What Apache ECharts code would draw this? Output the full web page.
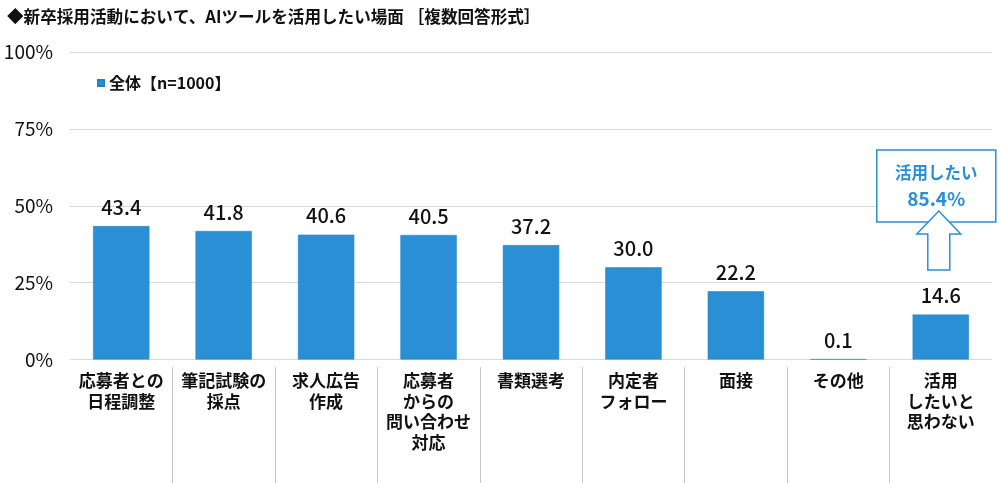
<!DOCTYPE html>
<html>
<head>
<meta charset="utf-8">
<script src="https://cdn.jsdelivr.net/npm/echarts@6/dist/echarts.min.js"></script>
<style>
html,body{margin:0;padding:0;background:#fff;}
#c{width:1000px;height:483px;}
</style>
</head>
<body>
<div id="c"></div>
<script>
const categories = ['応募者との\n日程調整','筆記試験の\n採点','求人広告\n作成','応募者\nからの\n問い合わせ\n対応','書類選考','内定者\nフォロー','面接','その他','活用\nしたいと\n思わない'];
const values = [43.4, 41.8, 40.6, 40.5, 37.2, 30.0, 22.2, 0.1, 14.6];
const seriesName = '全体【n=1000】';
const titleText = '◆新卒採用活動において、AIツールを活用したい場面 ［複数回答形式］';
const calloutLines = ['活用したい', '85.4%'];
const yTicks = [0, 25, 50, 75, 100];

const FONT = '"Noto Sans CJK JP", "Noto Sans", sans-serif';
const BLUE = '#2b8fd5';

const chart = echarts.init(document.getElementById('c'));
const option = {
  animation: false,
  textStyle: { fontFamily: FONT },
  title: {
    text: titleText, left: 2, top: 3,
    textStyle: { fontFamily: FONT, fontSize: 16.6, fontWeight: 'bold', color: '#111' }
  },
  legend: {
    data: [seriesName], left: 92, top: 70, icon: 'rect', itemWidth: 6, itemHeight: 6, itemGap: 4,
    textStyle: { fontFamily: FONT, fontSize: 16, fontWeight: 'bold', color: '#111' }
  },
  grid: [
    { left: 70, right: 8, top: 52, bottom: 123.5 },
    { left: 70, right: 8, top: 367, bottom: 0 }
  ],
  xAxis: [
    {
      type: 'category', data: categories, gridIndex: 0,
      axisLine: { show: true, lineStyle: { color: '#d9d9d9', width: 1 } },
      axisTick: { show: false },
      axisLabel: { interval: 0, fontFamily: FONT, fontSize: 17, fontWeight: 'bold', color: '#111', lineHeight: 20.5, margin: 11 }
    },
    {
      type: 'value', gridIndex: 1, min: 0, max: categories.length, interval: 1,
      axisLine: { show: false }, axisTick: { show: false }, axisLabel: { show: false },
      splitLine: { show: true, showMinLine: false, showMaxLine: false, lineStyle: { color: '#c8c8c8', width: 1 } }
    }
  ],
  yAxis: [
    {
      type: 'value', gridIndex: 0, min: yTicks[0], max: yTicks[yTicks.length - 1], interval: 25,
      axisLine: { show: false }, axisTick: { show: false },
      axisLabel: { formatter: '{value}%', fontFamily: FONT, fontSize: 19, color: '#111', margin: 17 },
      splitLine: { show: true, lineStyle: { color: '#d9d9d9', width: 1 } }
    },
    { type: 'value', gridIndex: 1, show: false, min: 0, max: 1, splitLine: { show: false } }
  ],
  series: [{
    name: seriesName, type: 'bar', data: values, barWidth: '55%',
    xAxisIndex: 0, yAxisIndex: 0,
    itemStyle: { color: BLUE, borderColor: '#2080c8', borderWidth: 0.5 },
    label: {
      show: true, position: 'top', distance: 9,
      formatter: p => p.value.toFixed(1),
      fontFamily: FONT, fontSize: 20, fontWeight: 500, color: '#111'
    }
  }]
};
chart.setOption(option);

// callout over the last category
const lastIdx = categories.length - 1;
const cx = chart.convertToPixel({ xAxisIndex: 0 }, categories[lastIdx]);
const bx = cx - 4.5;
const ax = cx - 2;
chart.setOption({
  graphic: [
    {
      type: 'rect', z: 100,
      shape: { x: bx - 59.5, y: 150, width: 119, height: 72 },
      style: { fill: '#fff', stroke: BLUE, lineWidth: 1.5 }
    },
    {
      type: 'text', z: 101, x: bx, y: 173,
      style: { text: calloutLines[0], fill: BLUE, font: 'bold 16.5px ' + FONT, align: 'center', verticalAlign: 'middle' }
    },
    {
      type: 'text', z: 101, x: bx, y: 199,
      style: { text: calloutLines[1], fill: BLUE, font: 'bold 19px ' + FONT, align: 'center', verticalAlign: 'middle' }
    },
    {
      type: 'polygon', z: 102,
      shape: { points: [[ax, 211], [ax + 22, 234], [ax + 11, 234], [ax + 11, 270], [ax - 11, 270], [ax - 11, 234], [ax - 22, 234]] },
      style: { fill: '#fff', stroke: BLUE, lineWidth: 1.5 }
    }
  ]
});
</script>
</body>
</html>
